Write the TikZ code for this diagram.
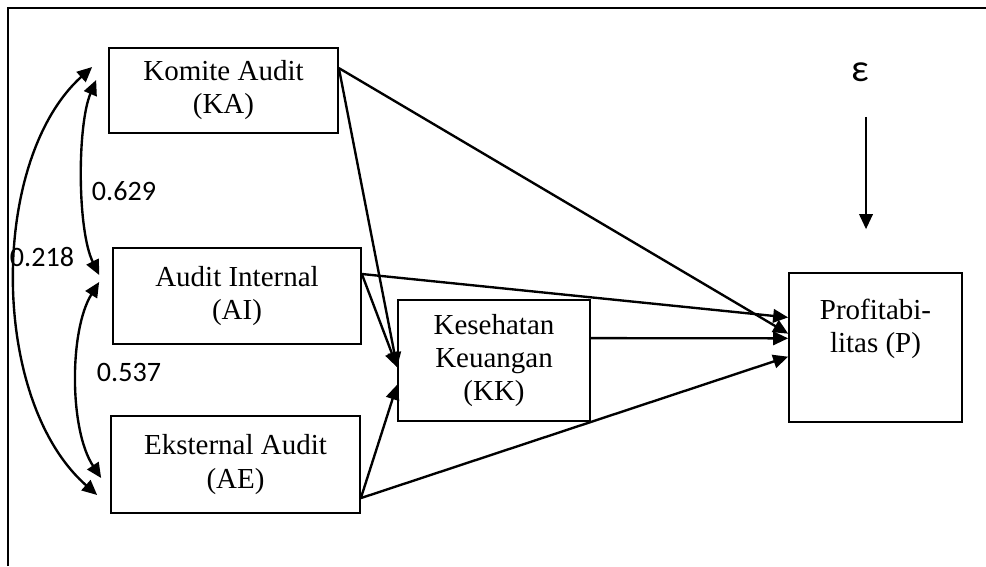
\documentclass[tikz,border=0pt]{standalone}
\usepackage{fontspec}
\setmainfont{Liberation Serif}
\newfontfamily\calib{Carlito}
\usetikzlibrary{arrows.meta,positioning,calc}
\tikzset{
    box/.style={rectangle, draw, line width=1pt, align=center, inner sep=2pt, font=\fontsize{16.5}{18.8}\selectfont},
    flow/.style={-{Triangle[length=0.3cm,width=0.27cm]}, line width=1.35pt},
    corr/.style={{Triangle[length=0.3cm,width=0.27cm]}-{Triangle[length=0.3cm,width=0.27cm]}, line width=1.35pt},
    coef/.style={font=\calib\fontsize{16}{19}\selectfont, inner sep=0pt},
    frame/.style={line width=1.3pt},
}

\begin{document}
\begin{tikzpicture}[x=0.02cm, y=-0.02cm]
    \useasboundingbox (0,0) rectangle (986,566);
    \draw[frame] (8,566) |- (986,8);

    % variables
    \node[box, minimum width=4.58cm, minimum height=1.70cm] (ka) at (223.5,90.5) {Komite Audit\\(KA)};
    \node[box, minimum width=4.96cm, minimum height=1.92cm] (ai) at (237,296) {Audit Internal\\(AI)};
    \node[box, minimum width=4.98cm, minimum height=1.94cm] (ae) at (235.5,464.5) {Eksternal Audit\\(AE)};
    \node[box, minimum width=3.84cm, minimum height=2.42cm] (kk) at (494,360.5) {Kesehatan\\Keuangan\\(KK)};
    \node[box, minimum width=3.46cm, minimum height=2.98cm] (p) at (875.5,347.5) {Profitabi-\\litas (P)\\\strut};
    \node[font=\calib\fontsize{22}{26}\selectfont, inner sep=0pt] (eps) at (860,72) {ε};

    % correlations
    \draw[corr] ($(ka.west)+(-16,-23.5)$) .. controls +(-103,93) and +(-108,-95) .. ($(ae.west)+(-13,30.5)$);
    \draw[corr] ($(ka.west)+(-12,-10.5)$) .. controls +(-19,45) and +(-22,-45) .. ($(ai.west)+(-13,-21)$);
    \draw[corr] ($(ai.west)+(-13,-14)$) .. controls +(-30,48) and +(-32,-48) .. ($(ae.west)+(-9,13.5)$);
    \node[coef] (r1) at (124,191) {0.629};
    \node[coef] (r2) at (42,257) {0.218};
    \node[coef] (r3) at (129,372) {0.537};

    % paths
    \draw[flow] (ka.11) -- (p.171);
    \draw[flow] (ka.11) -- (kk.184);
    \draw[flow] (ai.10) -- (kk.184);
    \draw[flow] (ai.10) -- (p.161);
    \draw[flow] (kk.13) -- (p.174);
    \draw[flow] (ae.-15) -- (kk.194);
    \draw[flow] (ae.-15) -- (p.186);
    \draw[flow, line width=1.1pt] ($(eps.south)+(6,35)$) -- ($(p.north)+(-9.5,-43)$);
\end{tikzpicture}
\end{document}
